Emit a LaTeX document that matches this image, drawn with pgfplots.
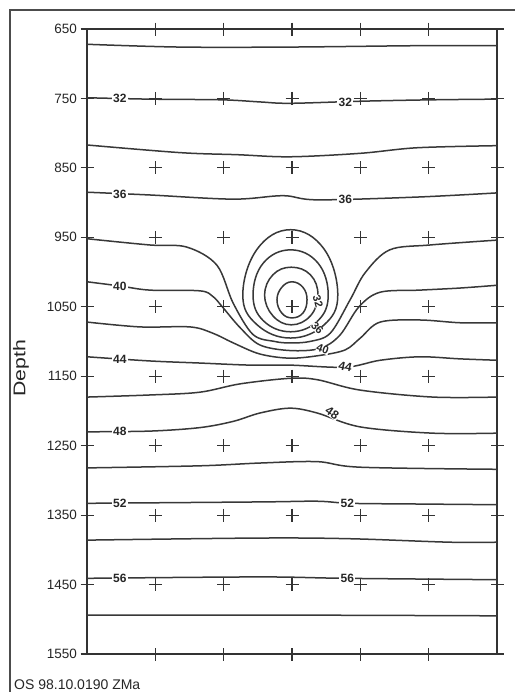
\documentclass[border=0pt]{standalone}
\usepackage{pgfplots}
\pgfplotsset{compat=1.18}
\usepackage{fontspec}
\setmainfont{Liberation Sans}

\pgfplotsset{
  iso/.style={smooth, tension=0.55, line width=1.5pt, black!78, mark=none},
  ring/.style={smooth cycle, tension=0.7, line width=1.5pt, black!78, mark=none},
}
\tikzset{
  lbl/.style={fill=white, inner sep=1.2pt, text=black!85,
    font=\bfseries\fontsize{12}{12}\selectfont},
  blbl/.style={inner sep=0.3pt, text=black!85,
    font=\bfseries\fontsize{11}{11}\selectfont},
}

\begin{document}
\begin{tikzpicture}
\path[use as bounding box] (0pt,0pt) rectangle (514pt,-692pt);
\fill[white] (0pt,0pt) rectangle (514pt,-692pt);
\draw[line width=1.3pt, black!70] (10pt,-10pt) rectangle (540pt,-720pt);

\begin{axis}[
  at={(292pt,-341.5pt)}, anchor=center,
  scale only axis, width=410pt, height=625pt,
  xmin=0, xmax=6, ymin=650, ymax=1550, y dir=reverse,
  axis line style={line width=1.6pt, black!80},
  xtick={1,...,5}, xticklabels={},
  ytick={650,750,...,1550},
  xtick pos=both, ytick pos=both, yticklabel pos=left,
  tick align=center, major tick length=13pt,
  tick style={line width=1.2pt, black!80},
  /pgf/number format/assume math mode=true,
  /pgf/number format/1000 sep={},
  yticklabel style={font=\fontsize{13.5}{15}\selectfont, text=black!85},
]
% grid crosses
\addplot[only marks, mark=+, mark size=6.5pt, line width=1.2pt, black!80] coordinates {
 (1,750) (2,750) (3,750) (4,750) (5,750)
 (1,850) (2,850) (3,850) (4,850) (5,850)
 (1,950) (2,950) (3,950) (4,950) (5,950)
 (1,1050) (2,1050) (3,1050) (4,1050) (5,1050)
 (1,1150) (2,1150) (3,1150) (4,1150) (5,1150)
 (1,1250) (2,1250) (3,1250) (4,1250) (5,1250)
 (1,1350) (2,1350) (3,1350) (4,1350) (5,1350)
 (1,1450) (2,1450) (3,1450) (4,1450) (5,1450)
};
% open contours, top to bottom
\addplot[iso] coordinates {(0,672) (1.36,676) (2.97,676) (4.87,674) (6,674)};
\addplot[iso] coordinates {(0,749) (0.92,751) (1.98,752) (2.53,755) (2.97,757) (4.0,754) (5.02,752) (6,751)};
\addplot[iso] coordinates {(0,817) (1.36,828) (2.2,831) (2.97,834) (4.0,829) (4.83,821) (6,818)};
\addplot[iso] coordinates {(0,885) (0.92,889) (2.14,895) (2.87,890) (3.37,896) (4.83,892) (6,886)};
\addplot[iso] coordinates {(0,952) (0.92,961) (1.46,964) (1.90,990) (2.14,1045) (2.43,1090) (2.75,1100) (2.97,1102) (3.26,1100) (3.56,1088) (3.85,1040) (4.07,1001) (4.43,968) (5.02,961) (6,954)};
\addplot[iso] coordinates {(0,1014) (0.48,1020) (0.92,1026) (1.65,1027) (1.84,1035) (1.98,1050) (2.24,1080) (2.53,1105) (2.97,1113) (3.41,1110) (3.70,1091) (3.98,1050) (4.29,1029) (4.87,1026) (5.46,1023) (6,1019)};
\addplot[iso] coordinates {(0,1072) (0.78,1079) (1.51,1079) (1.84,1088) (2.14,1102) (2.53,1118) (2.97,1124) (3.41,1120) (3.78,1112) (4.0,1095) (4.29,1072) (4.87,1069) (5.46,1073) (6,1073)};
\addplot[iso] coordinates {(0,1122) (0.92,1128) (1.65,1131) (2.39,1134) (2.97,1134) (3.78,1137) (4.29,1127) (4.87,1122) (5.46,1125) (6,1127)};
\addplot[iso] coordinates {(0,1180) (0.92,1177) (1.65,1173) (2.24,1161) (2.97,1153) (3.37,1155) (4.0,1170) (5.06,1180) (6,1180)};
\addplot[iso] coordinates {(0,1230) (0.92,1229) (1.65,1224) (2.14,1215) (2.53,1203) (2.97,1196) (3.37,1203) (4.0,1223) (5.06,1232) (6,1232)};
\addplot[iso] coordinates {(0,1282) (1.65,1279) (2.53,1275) (3.37,1273) (4.0,1281) (6,1284)};
\addplot[iso] coordinates {(0,1333) (2.53,1331) (3.37,1330) (3.85,1333) (4.83,1334) (6,1335)};
\addplot[iso] coordinates {(0,1386) (2.53,1383) (3.85,1384) (5.31,1389) (6,1389)};
\addplot[iso] coordinates {(0,1441) (2.53,1439) (3.78,1441) (6,1443)};
\addplot[iso] coordinates {(0,1494) (3,1494) (6,1495)};
% closed rings round the low at 3/1050
\addplot[ring] coordinates {(3.0,1014) (3.16,1022) (3.22,1040) (3.16,1059) (3.0,1066) (2.85,1059) (2.78,1040) (2.85,1022)};
\addplot[ring] coordinates {(2.99,993) (3.27,1004) (3.38,1033) (3.27,1063) (2.99,1076) (2.72,1063) (2.60,1033) (2.72,1004)};
\addplot[ring] coordinates {(2.98,968) (3.38,987) (3.53,1033) (3.38,1070) (2.98,1086) (2.58,1070) (2.43,1033) (2.58,987)};
\addplot[ring] coordinates {(2.98,939) (3.47,967) (3.67,1033) (3.47,1076) (2.98,1095) (2.49,1076) (2.28,1033) (2.49,967)};
% contour labels
\node[lbl] at (axis cs:0.48,750) {32};
\node[lbl] at (axis cs:3.78,755) {32};
\node[lbl] at (axis cs:0.48,888) {36};
\node[lbl] at (axis cs:3.78,896) {36};
\node[lbl] at (axis cs:0.48,1020) {40};
\node[lbl] at (axis cs:0.48,1126) {44};
\node[lbl, rotate=-12] at (axis cs:3.78,1136) {44};
\node[lbl] at (axis cs:0.48,1230) {48};
\node[lbl, rotate=-35, inner sep=0.5pt] at (axis cs:3.59,1203) {48};
\node[lbl] at (axis cs:0.48,1333) {52};
\node[lbl] at (axis cs:3.81,1333) {52};
\node[lbl] at (axis cs:0.48,1441) {56};
\node[lbl] at (axis cs:3.81,1441) {56};
\node[blbl, fill=white, rotate=-75] at (axis cs:3.38,1042) {32};
\node[blbl, fill=white, rotate=-45] at (axis cs:3.37,1081) {36};
\node[blbl, fill=white, rotate=-20] at (axis cs:3.45,1111) {40};
\end{axis}

\node[rotate=90, text=black!85] at (21pt,-368pt)
  {\fontsize{17}{20}\selectfont\scalebox{1.25}[1]{Depth}};
\node[anchor=base west, inner sep=0pt, text=black!85] at (14pt,-689pt)
  {\fontsize{14}{16}\selectfont OS 98.10.0190 ZMa};
\end{tikzpicture}
\end{document}
